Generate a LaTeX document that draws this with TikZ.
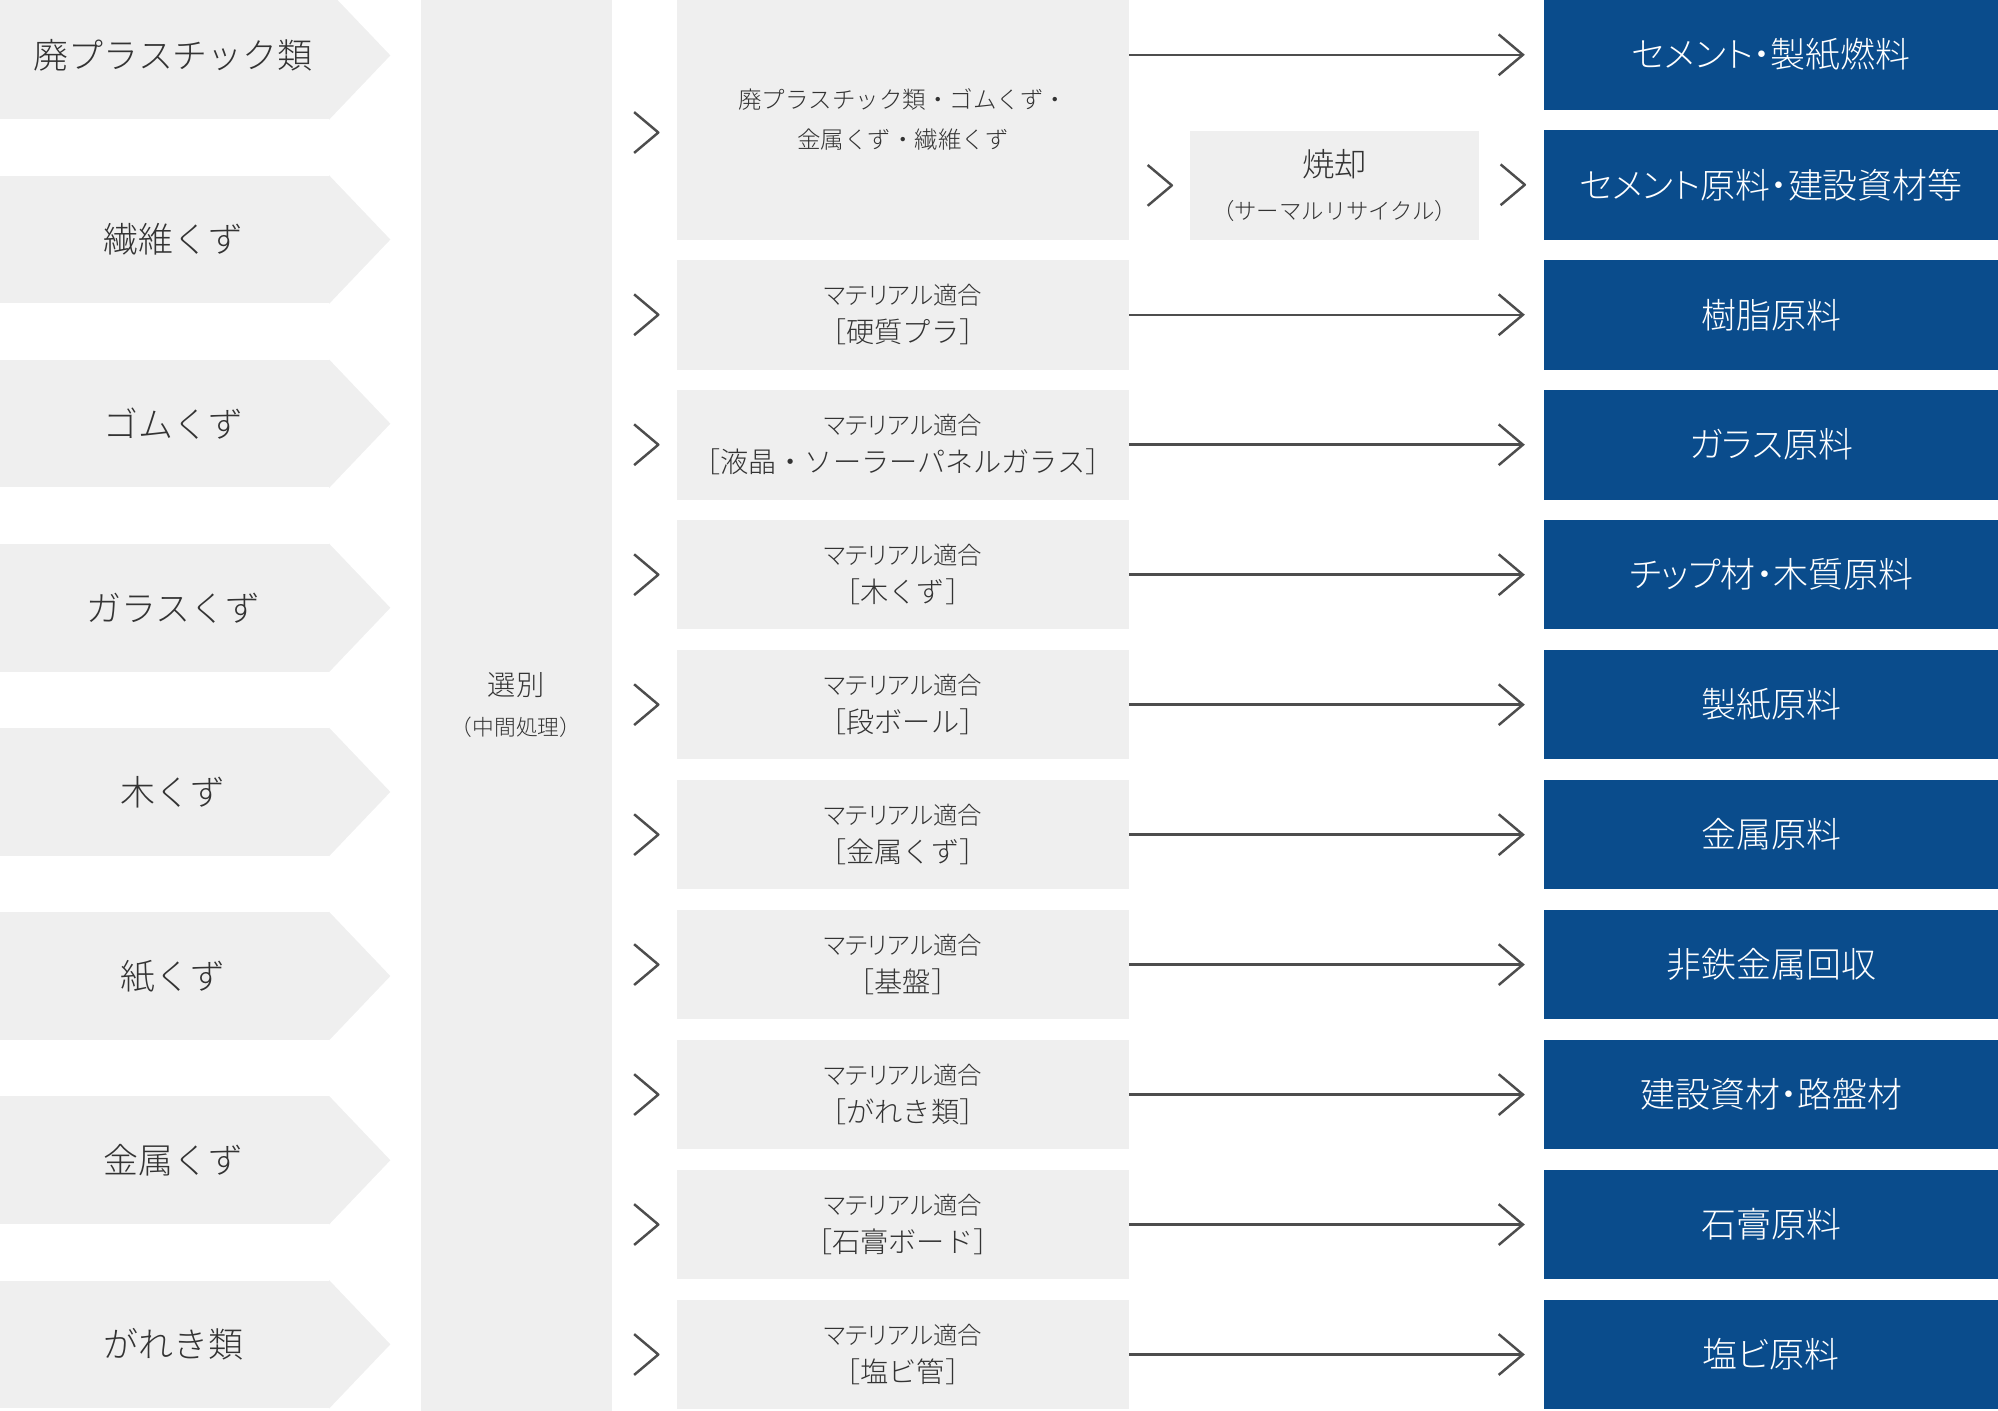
\documentclass[tikz,border=0pt]{standalone}
\usepackage{fontspec}
\newfontfamily\jp{Noto Sans CJK JP Light}
\newfontfamily\jpp{Noto Sans CJK JP Light}[RawFeature=+palt]
\usetikzlibrary{arrows.meta}
\definecolor{boxgray}{HTML}{EFEFEF}
\definecolor{txtgray}{HTML}{333333}
\definecolor{navy}{HTML}{0A4C8C}
\definecolor{linegray}{HTML}{4D4D4D}
\newcommand{\matfit}[1]{{\jpp\fontsize{10.9}{17}\selectfont マテリアル適合}\\［#1］}

\begin{document}
\begin{tikzpicture}[
        src/.style={rectangle, fill=boxgray, minimum width=5.16cm, minimum height=2cm, inner sep=0pt, text=txtgray, font=\jp\fontsize{15.6}{18}\selectfont, execute at begin node=\hspace*{0.28cm}},
        sortbox/.style={rectangle, fill=boxgray, minimum width=3cm, minimum height=22.14cm, inner sep=0pt, align=center, text=txtgray, font=\jp\fontsize{12.6}{18}\selectfont},
        proc/.style={rectangle, fill=boxgray, minimum width=7.1cm, minimum height=1.72cm, inner sep=0pt, align=center, text=txtgray, font=\jp\fontsize{12.6}{17}\selectfont},
        prod/.style={rectangle, fill=navy, minimum width=7.12cm, minimum height=1.72cm, inner sep=0pt, text=white, font=\jpp\fontsize{15.6}{18}\selectfont},
        arrow/.style={-{Straight Barb[length=3.8mm, width=6.4mm]}, line width=1.1pt, draw=linegray, shorten >=3mm},
        chev/.style={line width=1.1pt, draw=linegray, line join=round}
    ]
        \useasboundingbox (0,0) rectangle (31.36,-22.14);

        % Waste inputs
        \node[src] (plastic) at (2.58,-0.87) {廃プラスチック類};
        \node[src] (fiber) at (2.58,-3.76) {繊維くず};
        \node[src] (rubber) at (2.58,-6.65) {ゴムくず};
        \node[src] (glassw) at (2.58,-9.54) {ガラスくず};
        \node[src] (woodw) at (2.58,-12.43) {木くず};
        \node[src] (paperw) at (2.58,-15.32) {紙くず};
        \node[src] (metalw) at (2.58,-18.21) {金属くず};
        \node[src] (rubblew) at (2.58,-21.10) {がれき類};

        \fill[boxgray] (plastic.north east) -- ([xshift=0.96cm]plastic.east) -- (plastic.south east) -- cycle;
        \fill[boxgray] (fiber.north east) -- ([xshift=0.96cm]fiber.east) -- (fiber.south east) -- cycle;
        \fill[boxgray] (rubber.north east) -- ([xshift=0.96cm]rubber.east) -- (rubber.south east) -- cycle;
        \fill[boxgray] (glassw.north east) -- ([xshift=0.96cm]glassw.east) -- (glassw.south east) -- cycle;
        \fill[boxgray] (woodw.north east) -- ([xshift=0.96cm]woodw.east) -- (woodw.south east) -- cycle;
        \fill[boxgray] (paperw.north east) -- ([xshift=0.96cm]paperw.east) -- (paperw.south east) -- cycle;
        \fill[boxgray] (metalw.north east) -- ([xshift=0.96cm]metalw.east) -- (metalw.south east) -- cycle;
        \fill[boxgray] (rubblew.north east) -- ([xshift=0.96cm]rubblew.east) -- (rubblew.south east) -- cycle;

        % Sorting
        \node[sortbox] (sort) at (8.1,-11.07) {選別\\{\fontsize{9.7}{18}\selectfont（中間処理）}};

        % Treatment
        \node[proc, minimum height=3.76cm, font=\jp\fontsize{10.5}{18}\selectfont] (mixed) at (14.17,-1.88) {廃プラスチック類・ゴムくず・\\金属くず・繊維くず};
        \node[proc, minimum width=4.54cm, minimum height=1.70cm, font=\jp\fontsize{14.5}{19}\selectfont] (burn) at (20.95,-2.91) {焼却\\{\fontsize{10}{19}\selectfont（サーマルリサイクル）}};
        \node[proc] (hard) at (14.17,-4.94) {\matfit{硬質プラ}};
        \node[proc] (panel) at (14.17,-6.98) {\matfit{液晶・ソーラーパネルガラス}};
        \node[proc] (wood) at (14.17,-9.02) {\matfit{木くず}};
        \node[proc] (card) at (14.17,-11.06) {\matfit{段ボール}};
        \node[proc] (metal) at (14.17,-13.10) {\matfit{金属くず}};
        \node[proc] (board) at (14.17,-15.14) {\matfit{基盤}};
        \node[proc] (rubble) at (14.17,-17.18) {\matfit{がれき類}};
        \node[proc] (gypsum) at (14.17,-19.22) {\matfit{石膏ボード}};
        \node[proc] (pvc) at (14.17,-21.26) {\matfit{塩ビ管}};

        % Products
        \node[prod] (fuel) at (27.80,-0.86) {セメント・製紙燃料};
        \node[prod] (cement) at (27.80,-2.90) {セメント原料・建設資材等};
        \node[prod] (resin) at (27.80,-4.94) {樹脂原料};
        \node[prod] (glassraw) at (27.80,-6.98) {ガラス原料};
        \node[prod] (chip) at (27.80,-9.02) {チップ材・木質原料};
        \node[prod] (pulp) at (27.80,-11.06) {製紙原料};
        \node[prod] (metalraw) at (27.80,-13.10) {金属原料};
        \node[prod] (nonferrous) at (27.80,-15.14) {非鉄金属回収};
        \node[prod] (roadbed) at (27.80,-17.18) {建設資材・路盤材};
        \node[prod] (gypsumraw) at (27.80,-19.22) {石膏原料};
        \node[prod] (pvcraw) at (27.80,-21.26) {塩ビ原料};

        % Chevrons
        \draw[chev] ([xshift=-6.6mm,yshift=1.2mm]mixed.west) -- ++(3.8mm,-3.2mm) -- ++(-3.8mm,-3.2mm);
        \draw[chev] ([xshift=-6.6mm,yshift=3.2mm]hard.west) -- ++(3.8mm,-3.2mm) -- ++(-3.8mm,-3.2mm);
        \draw[chev] ([xshift=-6.6mm,yshift=3.2mm]panel.west) -- ++(3.8mm,-3.2mm) -- ++(-3.8mm,-3.2mm);
        \draw[chev] ([xshift=-6.6mm,yshift=3.2mm]wood.west) -- ++(3.8mm,-3.2mm) -- ++(-3.8mm,-3.2mm);
        \draw[chev] ([xshift=-6.6mm,yshift=3.2mm]card.west) -- ++(3.8mm,-3.2mm) -- ++(-3.8mm,-3.2mm);
        \draw[chev] ([xshift=-6.6mm,yshift=3.2mm]metal.west) -- ++(3.8mm,-3.2mm) -- ++(-3.8mm,-3.2mm);
        \draw[chev] ([xshift=-6.6mm,yshift=3.2mm]board.west) -- ++(3.8mm,-3.2mm) -- ++(-3.8mm,-3.2mm);
        \draw[chev] ([xshift=-6.6mm,yshift=3.2mm]rubble.west) -- ++(3.8mm,-3.2mm) -- ++(-3.8mm,-3.2mm);
        \draw[chev] ([xshift=-6.6mm,yshift=3.2mm]gypsum.west) -- ++(3.8mm,-3.2mm) -- ++(-3.8mm,-3.2mm);
        \draw[chev] ([xshift=-6.6mm,yshift=3.2mm]pvc.west) -- ++(3.8mm,-3.2mm) -- ++(-3.8mm,-3.2mm);
        \draw[chev] ([xshift=-6.6mm,yshift=3.2mm]burn.west) -- ++(3.8mm,-3.2mm) -- ++(-3.8mm,-3.2mm);
        \draw[chev] ([xshift=-6.8mm,yshift=3.2mm]cement.west) -- ++(3.8mm,-3.2mm) -- ++(-3.8mm,-3.2mm);

        % Arrows
        \draw[arrow] (mixed.east |- fuel) -- (fuel);
        \draw[arrow] (hard) -- (resin);
        \draw[arrow] (panel) -- (glassraw);
        \draw[arrow] (wood) -- (chip);
        \draw[arrow] (card) -- (pulp);
        \draw[arrow] (metal) -- (metalraw);
        \draw[arrow] (board) -- (nonferrous);
        \draw[arrow] (rubble) -- (roadbed);
        \draw[arrow] (gypsum) -- (gypsumraw);
        \draw[arrow] (pvc) -- (pvcraw);
    \end{tikzpicture}
\end{document}
